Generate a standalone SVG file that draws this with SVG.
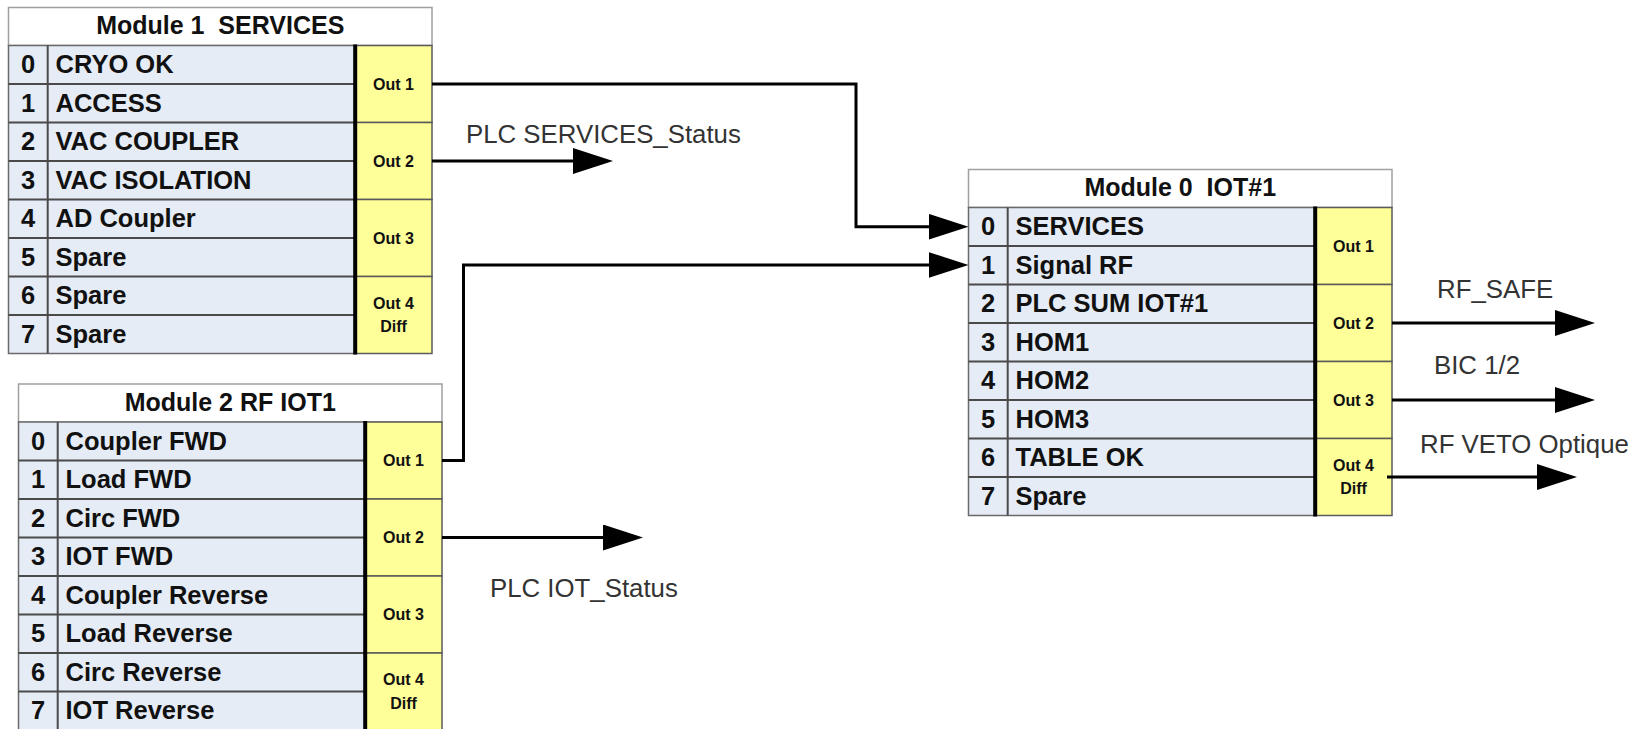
<svg xmlns="http://www.w3.org/2000/svg" width="1645" height="729" viewBox="0 0 1645 729">
<style>
.hdr{fill:#fff;stroke:#a0a0a0;stroke-width:1.5}
.rows{fill:#e5ecf6;stroke:#6a6a6a;stroke-width:1.5}
.sep{stroke:#4a4a4a;stroke-width:2}
.out{fill:#ffff99;stroke:#5a5a5a;stroke-width:1.5}
.thick{stroke:#000;stroke-width:4}
.ht{font-family:"Liberation Sans",Arial,sans-serif;font-weight:bold;font-size:25px;fill:#111;text-anchor:middle}
.n{font-family:"Liberation Sans",Arial,sans-serif;font-weight:bold;font-size:25.5px;fill:#111;text-anchor:middle}
.l{font-family:"Liberation Sans",Arial,sans-serif;font-weight:bold;font-size:25.5px;fill:#111}
.o{font-family:"Liberation Sans",Arial,sans-serif;font-weight:bold;font-size:16px;fill:#111;text-anchor:middle}
.lbl{font-family:"Liberation Sans",Arial,sans-serif;font-size:25.8px;fill:#333}
.wire{fill:none;stroke:#000;stroke-width:3}
</style>
<defs>
<marker id="ah" viewBox="0 0 40 26" refX="10" refY="13" markerWidth="40" markerHeight="26" markerUnits="userSpaceOnUse" orient="auto">
<path d="M0,0 L40,13 L0,26 z" fill="#000"/>
</marker>
<g id="frame">
<rect class="hdr" x="0" y="0" width="423.5" height="38"/>
<rect class="rows" x="0" y="38" width="346.7" height="308"/>
<line class="sep" x1="39.2" y1="38" x2="39.2" y2="346"/>
<line class="sep" x1="0" y1="76.5" x2="346.7" y2="76.5"/>
<line class="sep" x1="0" y1="115" x2="346.7" y2="115"/>
<line class="sep" x1="0" y1="153.5" x2="346.7" y2="153.5"/>
<line class="sep" x1="0" y1="192" x2="346.7" y2="192"/>
<line class="sep" x1="0" y1="230.5" x2="346.7" y2="230.5"/>
<line class="sep" x1="0" y1="269" x2="346.7" y2="269"/>
<line class="sep" x1="0" y1="307.5" x2="346.7" y2="307.5"/>
<rect class="out" x="346.7" y="38" width="76.8" height="77"/>
<rect class="out" x="346.7" y="115" width="76.8" height="77"/>
<rect class="out" x="346.7" y="192" width="76.8" height="77"/>
<rect class="out" x="346.7" y="269" width="76.8" height="77"/>
<line class="thick" x1="346.7" y1="37" x2="346.7" y2="347"/>
<text class="n" x="19.6" y="65.5">0</text>
<text class="n" x="19.6" y="104">1</text>
<text class="n" x="19.6" y="142.5">2</text>
<text class="n" x="19.6" y="181">3</text>
<text class="n" x="19.6" y="219.5">4</text>
<text class="n" x="19.6" y="258">5</text>
<text class="n" x="19.6" y="296.5">6</text>
<text class="n" x="19.6" y="335">7</text>
<text class="o" x="385" y="82">Out 1</text>
<text class="o" x="385" y="159">Out 2</text>
<text class="o" x="385" y="236">Out 3</text>
<text class="o" x="385" y="301">Out 4</text>
<text class="o" x="385" y="324.5">Diff</text>
</g>
</defs>

<g id="module1" transform="translate(8.5,7.5)">
<use href="#frame"/>
<text class="ht" x="211.75" y="26.5" xml:space="preserve">Module 1  SERVICES</text>
<text class="l" x="47" y="65.5">CRYO OK</text>
<text class="l" x="47" y="104">ACCESS</text>
<text class="l" x="47" y="142.5">VAC COUPLER</text>
<text class="l" x="47" y="181">VAC ISOLATION</text>
<text class="l" x="47" y="219.5">AD Coupler</text>
<text class="l" x="47" y="258">Spare</text>
<text class="l" x="47" y="296.5">Spare</text>
<text class="l" x="47" y="335">Spare</text>
</g>

<g id="module2" transform="translate(18.5,384)">
<use href="#frame"/>
<text class="ht" x="211.75" y="26.5">Module 2 RF IOT1</text>
<text class="l" x="47" y="65.5">Coupler FWD</text>
<text class="l" x="47" y="104">Load FWD</text>
<text class="l" x="47" y="142.5">Circ FWD</text>
<text class="l" x="47" y="181">IOT FWD</text>
<text class="l" x="47" y="219.5">Coupler Reverse</text>
<text class="l" x="47" y="258">Load Reverse</text>
<text class="l" x="47" y="296.5">Circ Reverse</text>
<text class="l" x="47" y="335">IOT Reverse</text>
</g>

<g id="module0" transform="translate(968.5,169.5)">
<use href="#frame"/>
<text class="ht" x="211.75" y="26.5" xml:space="preserve">Module 0  IOT#1</text>
<text class="l" x="47" y="65.5">SERVICES</text>
<text class="l" x="47" y="104">Signal RF</text>
<text class="l" x="47" y="142.5">PLC SUM IOT#1</text>
<text class="l" x="47" y="181">HOM1</text>
<text class="l" x="47" y="219.5">HOM2</text>
<text class="l" x="47" y="258">HOM3</text>
<text class="l" x="47" y="296.5">TABLE OK</text>
<text class="l" x="47" y="335">Spare</text>
</g>

<g id="connectors">
<path class="wire" d="M432,84 H856 V226.75 H938.5" marker-end="url(#ah)"/>
<path class="wire" d="M432,161 H583" marker-end="url(#ah)"/>
<path class="wire" d="M442,460.5 H463.5 V265 H938.5" marker-end="url(#ah)"/>
<path class="wire" d="M442,537.5 H613" marker-end="url(#ah)"/>
<path class="wire" d="M1392,323 H1565" marker-end="url(#ah)"/>
<path class="wire" d="M1392,400 H1565" marker-end="url(#ah)"/>
<path class="wire" d="M1387,477 H1547" marker-end="url(#ah)"/>
</g>

<g id="labels">
<text class="lbl" x="466" y="142.7">PLC SERVICES_Status</text>
<text class="lbl" x="490" y="597">PLC IOT_Status</text>
<text class="lbl" x="1437" y="298">RF_SAFE</text>
<text class="lbl" x="1434" y="374">BIC 1/2</text>
<text class="lbl" x="1420" y="453">RF VETO Optique</text>
</g>
</svg>
